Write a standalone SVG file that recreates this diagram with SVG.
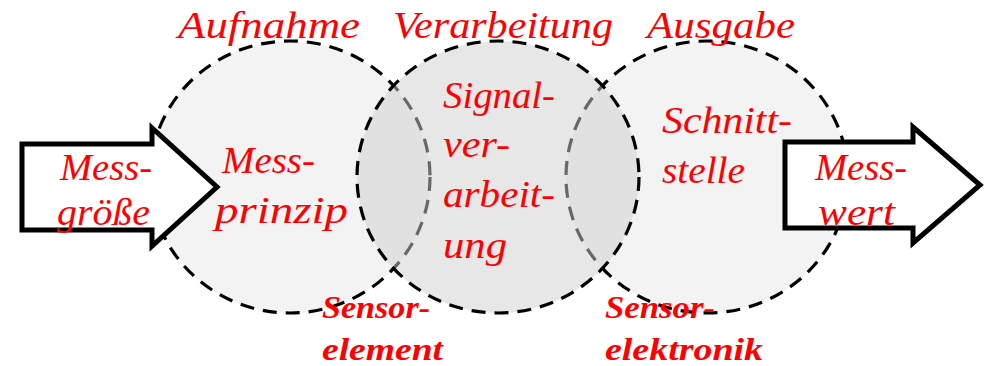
<svg xmlns="http://www.w3.org/2000/svg" width="987" height="366" viewBox="0 0 987 366">
<style>
.c{stroke:#000;stroke-width:3.2;stroke-dasharray:14 9}
.side{fill:#f3f3f3}
.mid{fill:#cfcfcf;fill-opacity:0.5}
.arr{fill:#fff;stroke:#000;stroke-width:5;stroke-linejoin:miter}
.t{font-family:"Liberation Serif",serif;font-style:italic;font-size:37px;fill:#ff0000}
.b{font-family:"Liberation Serif",serif;font-style:italic;font-weight:bold;font-size:32px;fill:#ff0000}
</style>
<rect width="987" height="366" fill="#fff"/>
<g id="aufnahme">
<ellipse class="c side" cx="290" cy="177" rx="140" ry="136"/>
</g>
<g id="ausgabe">
<ellipse class="c side" cx="707" cy="177" rx="141" ry="136"/>
</g>
<g id="verarbeitung">
<ellipse class="c mid" cx="498" cy="177" rx="141" ry="136"/>
</g>
<g id="connectors">
<path id="messgroesse" class="arr" d="M22,144 L152,144 L152,128 L217,187 L152,246 L152,230 L22,230 Z"/>
<path id="messwert" class="arr" d="M785,142 L913,142 L913,127 L980,185 L913,243 L913,228 L785,228 Z"/>
</g>
<g id="labels">
<text class="t" x="178" y="38" textLength="182" lengthAdjust="spacingAndGlyphs">Aufnahme</text>
<text class="t" x="393" y="38" textLength="220" lengthAdjust="spacingAndGlyphs">Verarbeitung</text>
<text class="t" x="647" y="38" textLength="148" lengthAdjust="spacingAndGlyphs">Ausgabe</text>
<text class="t" x="60" y="180" textLength="92" lengthAdjust="spacingAndGlyphs">Mess-</text>
<text class="t" x="57" y="225" textLength="93" lengthAdjust="spacingAndGlyphs">größe</text>
<text class="t" x="222" y="173" textLength="93" lengthAdjust="spacingAndGlyphs">Mess-</text>
<text class="t" x="215" y="223" textLength="133" lengthAdjust="spacingAndGlyphs">prinzip</text>
<text class="t" x="443" y="108" textLength="112" lengthAdjust="spacingAndGlyphs">Signal-</text>
<text class="t" x="443" y="157" textLength="67" lengthAdjust="spacingAndGlyphs">ver-</text>
<text class="t" x="443" y="207" textLength="112" lengthAdjust="spacingAndGlyphs">arbeit-</text>
<text class="t" x="443" y="258" textLength="64" lengthAdjust="spacingAndGlyphs">ung</text>
<text class="t" x="662" y="133" textLength="130" lengthAdjust="spacingAndGlyphs">Schnitt-</text>
<text class="t" x="662" y="183" textLength="83" lengthAdjust="spacingAndGlyphs">stelle</text>
<text class="t" x="815" y="180" textLength="92" lengthAdjust="spacingAndGlyphs">Mess-</text>
<text class="t" x="818" y="225" textLength="77" lengthAdjust="spacingAndGlyphs">wert</text>
<text class="b" x="322" y="318" textLength="108" lengthAdjust="spacingAndGlyphs">Sensor-</text>
<text class="b" x="322" y="360" textLength="121" lengthAdjust="spacingAndGlyphs">element</text>
<text class="b" x="605" y="318" textLength="110" lengthAdjust="spacingAndGlyphs">Sensor-</text>
<text class="b" x="605" y="360" textLength="158" lengthAdjust="spacingAndGlyphs">elektronik</text>
</g>
</svg>
